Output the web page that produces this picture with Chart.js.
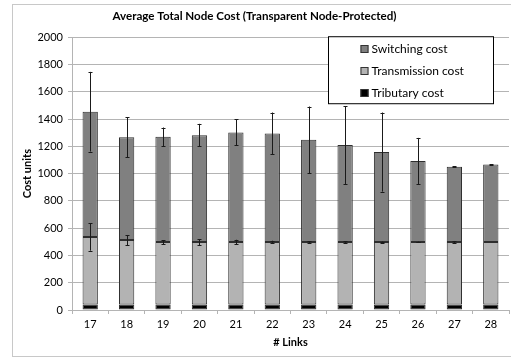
<!DOCTYPE html>
<html>
<head>
<meta charset="utf-8">
<script src="https://cdn.jsdelivr.net/npm/chart.js@4"></script>
<style>
  html, body { margin: 0; padding: 0; background: #fff; }
  #wrap { width: 511px; height: 358px; position: relative; }
</style>
</head>
<body>
<div id="wrap"><canvas id="c" width="511" height="358"></canvas></div>
<script>
// Number of links per network
const links = ['17', '18', '19', '20', '21', '22', '23', '24', '25', '26', '27', '28'];

// Average cost components (stacked from the bottom up)
const tributaryCost    = [40, 40, 40, 40, 40, 40, 40, 40, 40, 40, 40, 40];
const transmissionCost = [495, 473, 458, 458, 458, 458, 458, 458, 458, 458, 458, 458];
const switchingCost    = [919, 754, 772, 784, 804, 797, 750, 711, 660, 594, 552, 569];

// Error-bar half ranges (drawn at the top of each segment)
const transmissionErr = [100, 37, 15, 22, 17, 10, 6, 6, 4, 3, 8, 0];
const switchingErr    = [292, 147, 68, 83, 95, 153, 244, 285, 290, 170, 3, 2];

const yTicks = [0, 200, 400, 600, 800, 1000, 1200, 1400, 1600, 1800, 2000];

const FONT = 'Lato, "Open Sans", "Liberation Sans", sans-serif';
const GRID = '#b4b4b4';

// Whiskers drawn on top of the stacked bars using the chart's scales
const errorBars = {
  id: 'errorBars',
  afterDatasetsDraw(chart) {
    const ctx = chart.ctx;
    const x = chart.scales.x, y = chart.scales.y;
    const groups = [
      { err: transmissionErr, base: i => tributaryCost[i] + transmissionCost[i] },
      { err: switchingErr, base: i => tributaryCost[i] + transmissionCost[i] + switchingCost[i] }
    ];
    ctx.save();
    ctx.strokeStyle = '#1a1a1a';
    ctx.lineWidth = 1;
    groups.forEach(g => {
      links.forEach((_, i) => {
        const e = g.err[i];
        if (!e) return;
        const cx = Math.round(x.getPixelForValue(i)) + 0.5;
        const yTop = y.getPixelForValue(g.base(i) + e);
        const yBot = y.getPixelForValue(g.base(i) - e);
        ctx.beginPath();
        ctx.moveTo(cx, yTop);
        ctx.lineTo(cx, yBot);
        ctx.moveTo(cx - 2, Math.round(yTop) + 0.5);
        ctx.lineTo(cx + 2, Math.round(yTop) + 0.5);
        ctx.moveTo(cx - 2, Math.round(yBot) + 0.5);
        ctx.lineTo(cx + 2, Math.round(yBot) + 0.5);
        ctx.stroke();
      });
    });
    ctx.restore();
  }
};

// Boxed legend inside the plot area, top-right, listing series top to bottom
const boxLegend = {
  id: 'boxLegend',
  afterDraw(chart) {
    const ctx = chart.ctx;
    const area = chart.chartArea;
    const w = 165, h = 67;
    const bx = area.right - 16 - w + 0.5, by = area.top - 1 + 0.5;
    ctx.save();
    ctx.fillStyle = '#fff';
    ctx.fillRect(bx, by, w, h);
    ctx.strokeStyle = '#000';
    ctx.lineWidth = 1;
    ctx.strokeRect(bx, by, w, h);
    const items = chart.data.datasets.slice().reverse();
    ctx.font = '12px ' + FONT;
    ctx.textBaseline = 'middle';
    items.forEach((ds, k) => {
      const cy = by + 12 + k * 22.2;
      const sx = bx + 32;
      ctx.fillStyle = ds.backgroundColor;
      ctx.fillRect(sx, Math.round(cy - 4), 8, 8);
      ctx.strokeStyle = '#333';
      ctx.strokeRect(sx + 0.5, Math.round(cy - 4) + 0.5, 7, 7);
      ctx.fillStyle = '#000';
      ctx.fillText(ds.label, sx + 11, cy + 0.5);
    });
    ctx.restore();
  }
};

// Light frame around the whole chart
const frame = {
  id: 'frame',
  afterDraw(chart) {
    const ctx = chart.ctx;
    ctx.save();
    ctx.strokeStyle = '#c8c8c8';
    ctx.lineWidth = 1;
    ctx.strokeRect(12.5, 4.5, 520, 352);
    ctx.restore();
  }
};

new Chart(document.getElementById('c'), {
  type: 'bar',
  data: {
    labels: links,
    datasets: [
      { label: 'Tributary cost', data: tributaryCost, backgroundColor: '#000000' },
      { label: 'Transmission cost', data: transmissionCost, backgroundColor: '#b3b3b3' },
      { label: 'Switching cost', data: switchingCost, backgroundColor: '#808080' }
    ].map(d => Object.assign(d, {
      borderColor: '#2e2e2e', borderWidth: 1, borderSkipped: false,
      barPercentage: 0.42, categoryPercentage: 1.0
    }))
  },
  options: {
    responsive: false,
    animation: false,
    devicePixelRatio: 1,
    layout: { padding: { left: 0, right: 2, top: 0, bottom: 0 } },
    plugins: {
      legend: { display: false },
      tooltip: { enabled: false },
      title: {
        display: true,
        text: 'Average Total Node Cost (Transparent Node-Protected)',
        color: '#000',
        font: { family: FONT, size: 11.6, weight: 'bold', lineHeight: 1.14 },
        padding: { top: 10, bottom: 14 }
      }
    },
    scales: {
      x: {
        stacked: true,
        grid: { display: true, drawOnChartArea: false, drawTicks: true, tickLength: 4, offset: true, color: GRID },
        border: { display: true, color: GRID },
        ticks: { color: '#000', font: { family: FONT, size: 11 }, padding: 4 },
        title: { display: true, text: '# Links', color: '#000', font: { family: FONT, size: 11, weight: 'bold' }, padding: { top: 0, bottom: 9 } },
        afterFit: s => { s.height = 48; }
      },
      y: {
        stacked: true,
        min: 0, max: 2000,
        afterBuildTicks: s => { s.ticks = yTicks.map(v => ({ value: v })); },
        grid: { color: GRID, tickLength: 4 },
        border: { display: true, color: GRID },
        ticks: { color: '#000', font: { family: FONT, size: 11 }, padding: 5, callback: v => String(v) },
        title: { display: true, text: 'Cost units', color: '#000', font: { family: FONT, size: 11, weight: 'bold' }, padding: { top: 21, bottom: 0 } },
        afterFit: s => { s.width = 72; }
      }
    }
  },
  plugins: [errorBars, boxLegend, frame]
});
</script>
</body>
</html>
